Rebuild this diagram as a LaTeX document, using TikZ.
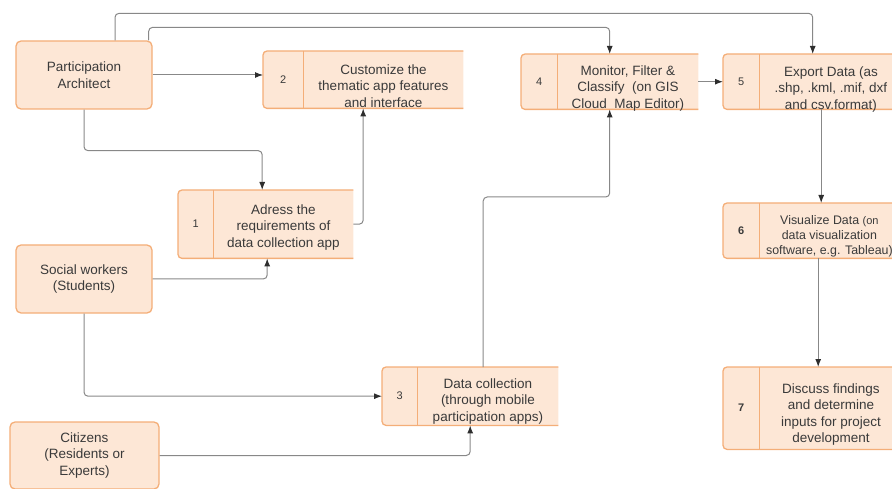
\documentclass[tikz,border=0pt]{standalone}
\usepackage{fontspec}
\setmainfont{Liberation Sans}
\usetikzlibrary{arrows.meta,positioning,calc}
\definecolor{boxfill}{HTML}{FDE7D6}
\definecolor{boxline}{HTML}{F4AE78}
\definecolor{textgray}{HTML}{3A3A3A}
\definecolor{linkgray}{HTML}{888888}
\definecolor{tipgray}{HTML}{2E2E2E}

\begin{document}
\begin{tikzpicture}[x=1pt,y=-1pt,
  actor/.style={draw=boxline,fill=boxfill,line width=1.3pt,rounded corners=5pt,
    minimum width=136pt,minimum height=68pt,align=center,text=textgray,
    font=\fontsize{13.5}{16.5}\selectfont},
  stepbox/.style={inner sep=0pt,anchor=north west},
  stepnum/.style={anchor=west,inner sep=0pt,text=textgray,font=\fontsize{11}{13}\selectfont},
  steptext/.style={align=center,text=textgray,inner sep=0pt,font=\fontsize{13.5}{16.5}\selectfont},
  link/.style={draw=linkgray,line width=1pt,rounded corners=4pt,
    -{Latex[length=8pt,width=6pt,color=tipgray]}}]
  \useasboundingbox (0,0) rectangle (892,489);

  % Actors
  \node[actor] (arch) at (84,75) {Participation\\Architect};
  \node[actor] (social) at (84,279) {Social workers\\(Students)};
  \node[actor,minimum width=149pt,minimum height=67pt] (citizen) at (84.5,455.5) {Citizens\\(Residents or\\Experts)};

  % Steps
  \node[stepbox,minimum width=175pt,minimum height=68pt] (s1) at (178,190) {};
  \node[stepbox,minimum width=200pt,minimum height=57pt] (s2) at (263,51) {};
  \node[stepbox,minimum width=176pt,minimum height=58pt] (s3) at (382,367) {};
  \node[stepbox,minimum width=177pt,minimum height=55pt] (s4) at (521,54) {};
  \node[stepbox,minimum width=179pt,minimum height=55pt] (s5) at (723,54) {};
  \node[stepbox,minimum width=179pt,minimum height=55pt] (s6) at (723,203) {};
  \node[stepbox,minimum width=179pt,minimum height=82pt] (s7) at (723,367) {};
  \foreach \s in {s1,s2,s3,s4,s5,s6,s7}
    \path[fill=boxfill,draw=boxline,line width=1.3pt,rounded corners=4pt]
      (\s.north east) -- (\s.north west) -- (\s.south west) -- (\s.south east);

  \node[stepnum,minimum width=35pt] (n1) at (s1.west) {1};
  \node[stepnum,minimum width=40pt] (n2) at (s2.west) {2};
  \node[stepnum,minimum width=35pt] (n3) at (s3.west) {3};
  \node[stepnum,minimum width=36pt] (n4) at (s4.west) {4};
  \node[stepnum,minimum width=36pt] (n5) at (s5.west) {5};
  \node[stepnum,minimum width=36pt,font=\fontsize{11}{13}\selectfont\bfseries] (n6) at (s6.west) {6};
  \node[stepnum,minimum width=36pt,font=\fontsize{11}{13}\selectfont\bfseries] (n7) at (s7.west) {7};
  \foreach \n/\s in {n1/s1,n2/s2,n3/s3,n4/s4,n5/s5,n6/s6,n7/s7}
    \draw[boxline,line width=1.3pt] (\n.east |- \s.north) -- (\n.east |- \s.south);

  \node[steptext,yshift=-3pt] (t1) at ($(n1.east)!0.5!(s1.east)$) {Adress the\\requirements of\\data collection app};
  \node[steptext,yshift=-6pt] (t2) at ($(n2.east)!0.5!(s2.east)$) {Customize the\\thematic app features\\and interface};
  \node[steptext,yshift=-5pt] (t3) at ($(n3.east)!0.5!(s3.east)$) {Data collection\\(through mobile\\participation apps)};
  \node[steptext,yshift=-6.5pt] (t4) at ($(n4.east)!0.5!(s4.east)$) {Monitor, Filter \&\\Classify\ \ (on GIS\\Cloud\ \ Map Editor)};
  \node[steptext,yshift=-7.5pt] (t5) at ($(n5.east)!0.5!(s5.east)$) {Export Data (as\\.shp, .kml, .mif, dxf\\and csv.format)};
  \node[steptext,xshift=-1.5pt,yshift=-5.5pt,font=\fontsize{12.4}{15}\selectfont] (t6) at ($(n6.east)!0.5!(s6.east)$) {Visualize Data {\fontsize{11}{13}\selectfont(on}\\data visualization\\software, e.g. Tableau)};
  \node[steptext,yshift=-6.5pt] (t7) at ($(n7.east)!0.5!(s7.east)$) {Discuss findings\\and determine\\inputs for project\\development};

  % Connectors
  \draw[link] ([xshift=31pt]arch.north) -- ++(0,-27) -| (s5.north);
  \draw[link] ([xshift=-4pt]arch.north east) -- ++(0,-13) -| (s4.north);
  \draw[link] (arch.east) -- (arch.east -| s2.west);
  \draw[link] (arch.south) -- ++(0,41) -| ([xshift=-3.5pt]s1.north);
  \draw[link] (s1.east) -| (s2.south);
  \draw[link] (social.east) -| ([xshift=1.5pt]s1.south);
  \draw[link] (social.south) |- (s3.west);
  \draw[link] (citizen.east) -| (s3.south);
  \draw[link] ([xshift=13pt]s3.north) -- ++(0,-170) -| (s4.south);
  \draw[link] (s4.east) -- (s5.west);
  \draw[link] ([xshift=8.5pt]s5.south) -- ([xshift=8.5pt]s6.north);
  \draw[link] ([xshift=5.5pt]s6.south) -- ([xshift=5.5pt]s7.north);
\end{tikzpicture}
\end{document}
